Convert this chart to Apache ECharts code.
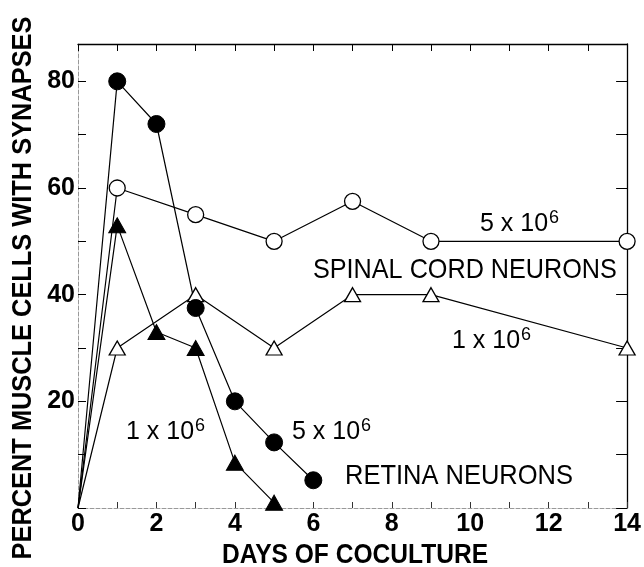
<!DOCTYPE html>
<html><head><meta charset="utf-8">
<script src="https://cdn.jsdelivr.net/npm/echarts@6/dist/echarts.min.js"></script>
<style>html,body{margin:0;padding:0;background:#fff}#c{width:644px;height:567px}</style>
</head><body><div id="c"></div>
<script>
// ---- data ----
const spinal5Days = [0, 1, 3, 5, 7, 9, 14];
const spinal5Vals = [0, 60, 55, 50, 57.5, 50, 50];
const spinal1Days = [0, 1, 3, 5, 7, 9, 14];
const spinal1Vals = [0, 30, 40, 30, 40, 40, 30];
const retina5Days = [0, 1, 2, 3, 4, 5, 6];
const retina5Vals = [0, 80, 72, 37.5, 20, 12.3, 5.2];
const retina1Days = [0, 1, 2, 3, 4, 5];
const retina1Vals = [0, 53, 33, 30, 8.5, 1];
const xTickLabels = [0, 2, 4, 6, 8, 10, 12, 14];
const yTickLabels = [20, 40, 60, 80];

const FONT = "'Liberation Sans', Arial, sans-serif";

function pts(days, vals, sym) {
  return days.map((d, i) => ({ value: [d, vals[i]], symbol: (d === 0 ? 'none' : sym) }));
}

const chart = echarts.init(document.getElementById('c'), null, { renderer: 'canvas' });

const lineBase = { type: 'line', xAxisIndex: 0, yAxisIndex: 0, animation: false,
  lineStyle: { color: '#000', width: 1.2 }, showAllSymbol: true, z: 3 };

const sup = (main) => ({
  text: main + '{s|6}',
  fontFamily: FONT, fontSize: 25, fill: '#000',
  rich: { s: { fontSize: 18, fontFamily: FONT, verticalAlign: 'top', padding: [0, 0, 12, 1] } }
});

chart.setOption({
  animation: false,
  backgroundColor: '#fff',
  grid: { left: 78, right: 14, top: 44, bottom: 59 },
  xAxis: [
    { type: 'value', min: 0, max: 14, interval: 1, position: 'bottom',
      axisLine: { onZero: false, lineStyle: { color: '#999', width: 1, type: 'dashed' } },
      axisTick: { inside: true, length: 6, lineStyle: { color: '#333' } },
      splitLine: { show: false },
      axisLabel: { margin: 4, color: '#000', fontFamily: FONT, fontWeight: 'bold', fontSize: 25,
        formatter: v => (xTickLabels.indexOf(v) >= 0 ? String(v) : '') } },
    { type: 'value', min: 0, max: 14, interval: 1, position: 'top',
      axisLine: { onZero: false, lineStyle: { color: '#000', width: 1.3 } },
      axisTick: { inside: true, length: 7, lineStyle: { color: '#000' } },
      splitLine: { show: false }, axisLabel: { show: false } }
  ],
  yAxis: [
    { type: 'value', min: 0, max: 87, interval: 10, position: 'left',
      axisLine: { show: true, onZero: false, lineStyle: { color: '#999', width: 1, type: 'dashed' } },
      axisTick: { inside: true, length: 8, lineStyle: { color: '#000' } },
      splitLine: { show: false },
      axisLabel: { margin: 3, color: '#000', fontFamily: FONT, fontWeight: 'bold', fontSize: 25,
        formatter: v => (yTickLabels.indexOf(v) >= 0 ? String(v) : '') } },
    { type: 'value', min: 0, max: 87, interval: 10, position: 'right',
      axisLine: { show: true, onZero: false, lineStyle: { color: '#000', width: 1.3 } },
      axisTick: { inside: true, length: 11, lineStyle: { color: '#000' } },
      splitLine: { show: false }, axisLabel: { show: false } }
  ],
  series: [
    Object.assign({}, lineBase, { name: 'spinal5', data: pts(spinal5Days, spinal5Vals, 'circle'),
      symbolSize: 16, itemStyle: { color: '#fff', borderColor: '#000', borderWidth: 1.3 } }),
    Object.assign({}, lineBase, { name: 'spinal1', data: pts(spinal1Days, spinal1Vals, 'triangle'),
      symbolSize: [16, 14], itemStyle: { color: '#fff', borderColor: '#000', borderWidth: 1.3 } }),
    Object.assign({}, lineBase, { name: 'retina5', data: pts(retina5Days, retina5Vals, 'circle'),
      symbolSize: 17, itemStyle: { color: '#000', borderColor: '#000', borderWidth: 1 } }),
    Object.assign({}, lineBase, { name: 'retina1', data: pts(retina1Days, retina1Vals, 'triangle'),
      symbolSize: [17, 15], itemStyle: { color: '#000', borderColor: '#000', borderWidth: 1 } })
  ],
  graphic: [
    { type: 'text', x: 24, y: 288, rotation: Math.PI / 2, scaleX: 0.94,
      style: { text: 'PERCENT MUSCLE CELLS WITH SYNAPSES', fontFamily: FONT, fontWeight: 'bold',
        fontSize: 27, fill: '#000', align: 'center', verticalAlign: 'middle' } },
    { type: 'text', x: 355, y: 556, scaleX: 0.91,
      style: { text: 'DAYS OF COCULTURE', fontFamily: FONT, fontWeight: 'bold',
        fontSize: 27, fill: '#000', align: 'center', verticalAlign: 'middle' } },
    { type: 'text', x: 313, y: 270, scaleX: 0.9,
      style: { text: 'SPINAL CORD NEURONS', fontFamily: FONT, fontSize: 28, fill: '#000',
        align: 'left', verticalAlign: 'middle' } },
    { type: 'text', x: 345, y: 476, scaleX: 0.91,
      style: { text: 'RETINA NEURONS', fontFamily: FONT, fontSize: 28, fill: '#000',
        align: 'left', verticalAlign: 'middle' } },
    { type: 'text', x: 480, y: 224, style: Object.assign(sup('5 x 10'), { align: 'left', verticalAlign: 'middle' }) },
    { type: 'text', x: 452, y: 341, style: Object.assign(sup('1 x 10'), { align: 'left', verticalAlign: 'middle' }) },
    { type: 'text', x: 126, y: 432, style: Object.assign(sup('1 x 10'), { align: 'left', verticalAlign: 'middle' }) },
    { type: 'text', x: 292, y: 432, style: Object.assign(sup('5 x 10'), { align: 'left', verticalAlign: 'middle' }) }
  ]
});
</script>
</body></html>
